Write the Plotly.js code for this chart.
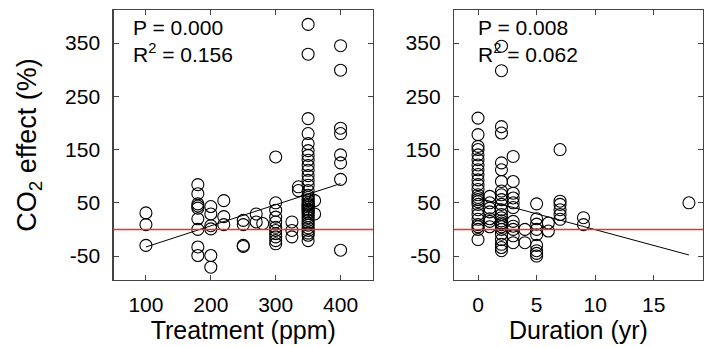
<!DOCTYPE html>
<html>
<head>
<meta charset="utf-8">
<script src="https://cdn.plot.ly/plotly-3.0.1.min.js"></script>
<style>html,body{margin:0;padding:0;background:#fff;}</style>
</head>
<body>
<div id="chart" style="width:704px;height:347px;"></div>
<script>
// Left panel: Treatment (ppm) vs CO2 effect (%)
const treatX = [
  100,100,100,
  180,180,180,180,180,180,180,180,180,
  200,200,200,200,200,200,
  220,220,220,
  250,250,250,250,
  270,270,
  280,
  300,300,300,300,300,300,300,300,300,300,300,
  325,325,325,
  335,335,
  350,350,350,350,350,350,350,350,350,350,350,350,350,350,350,350,350,350,350,350,350,350,350,350,350,350,350,350,350,350,350,350,350,350,350,350,
  360,360,
  400,400,400,400,400,400,400,400
];
const treatY = [
  31,9,-30,
  84,67,48,44,40,20,0,-33,-49,
  43,29,7,1,-49,-71,
  54,24,9,
  17,9,-30,-32,
  29,14,
  11,
  136,50,36,23,14,4,-2,-8,-14,-21,-27,
  14,-2,-14,
  80,73,
  385,329,208,180,161,148,139,130,120,111,101,92,83,73,64,60,56,54,50,47,45,42,38,36,33,30,26,22,17,12,8,3,-2,-7,-11,-21,
  54,29,
  345,299,190,180,140,125,94,-39
];
const treatFitX = [100, 400];
const treatFitY = [-33, 86];

// Right panel: Duration (yr) vs CO2 effect (%)
const durX = [
  0,0,0,0,0,0,0,0,0,0,0,0,0,0,0,0,0,0,0,0,0,0,0,0,
  1,1,1,1,1,1,1,
  2,2,2,2,2,2,2,2,2,2,2,2,2,2,2,2,2,2,2,2,2,2,2,2,
  3,3,3,3,3,3,3,3,3,3,3,
  4,4,
  5,5,5,5,5,5,5,5,5,
  6,6,
  7,7,7,7,7,7,
  9,9,
  18
];
const durY = [
  209,178,156,150,140,131,121,112,103,93,84,75,65,60,56,52,47,37,28,19,9,5,0,-19,
  62,50,40,33,20,15,5,
  344,298,193,181,125,112,90,72,65,56,47,37,28,22,16,12,9,5,0,-9,-19,-28,-34,-40,
  137,90,68,59,50,41,15,6,0,-12,-25,
  0,-25,
  48,20,10,0,-10,-30,-40,-45,-50,
  12,-3,
  150,53,47,37,28,19,
  22,9,
  50
];
const durFitX = [0, 18];
const durFitY = [59, -48];

const xTicks1 = [100, 200, 300, 400];
const xTicks2 = [0, 5, 10, 15];
const yTicks = [-50, 50, 150, 250, 350];

const FONT = 'Arial, "Liberation Sans", sans-serif';
const frame = '#444';

const marker = {symbol: 'circle-open', size: 12, color: '#000', line: {width: 1.1, color: '#000'}};

const traces = [
  {x: treatX, y: treatY, type: 'scatter', mode: 'markers', marker: marker, xaxis: 'x', yaxis: 'y', hoverinfo: 'x+y'},
  {x: treatFitX, y: treatFitY, type: 'scatter', mode: 'lines', line: {color: '#000', width: 1}, xaxis: 'x', yaxis: 'y'},
  {x: durX, y: durY, type: 'scatter', mode: 'markers', marker: marker, xaxis: 'x2', yaxis: 'y2', hoverinfo: 'x+y'},
  {x: durFitX, y: durFitY, type: 'scatter', mode: 'lines', line: {color: '#000', width: 1}, xaxis: 'x2', yaxis: 'y2'}
];

function xAxis(domain, range, ticks, title) {
  return {
    domain: domain, range: range, tickvals: ticks, ticktext: ticks.map(String),
    ticks: 'inside', ticklen: 5, tickwidth: 1, tickcolor: frame,
    showline: true, linecolor: frame, linewidth: 1.2, mirror: 'ticks',
    showgrid: false, zeroline: false,
    tickfont: {family: FONT, size: 21, color: '#000'},
    ticklabelstandoff: 6,
    title: {text: title, font: {family: FONT, size: 25, color: '#000'}, standoff: 6},
    automargin: false
  };
}
function yAxis(anchor, title) {
  const a = {
    anchor: anchor, domain: [0, 1], range: [-95, 412], tickvals: yTicks, ticktext: yTicks.map(String),
    ticks: 'inside', ticklen: 5, tickwidth: 1, tickcolor: frame,
    showline: true, linecolor: frame, linewidth: 1.2, mirror: 'ticks',
    showgrid: false, zeroline: false,
    tickfont: {family: FONT, size: 21, color: '#000'},
    ticklabelstandoff: 8,
    automargin: false
  };
  if (title) a.title = {text: title, font: {family: FONT, size: 27, color: '#000'}, standoff: 20};
  return a;
}

const layout = {
  width: 704, height: 347,
  margin: {l: 0, r: 0, t: 10, b: 67, pad: 0},
  paper_bgcolor: '#fff', plot_bgcolor: '#fff',
  showlegend: false,
  font: {family: FONT, color: '#000'},
  xaxis: xAxis([113.5/704, 373/704], [50, 450], xTicks1, 'Treatment (ppm)'),
  xaxis2: Object.assign(xAxis([454/704, 703/704], [-2.05, 19.2], xTicks2, 'Duration (yr)'), {anchor: 'y2'}),
  yaxis: yAxis('x', 'CO<sub>2</sub> effect (%)'),
  yaxis2: yAxis('x2', null),
  shapes: [
    {type: 'line', xref: 'x domain', yref: 'y', x0: 0, x1: 1, y0: 0, y1: 0, line: {color: '#e8332e', width: 1.5}},
    {type: 'line', xref: 'x2 domain', yref: 'y2', x0: 0, x1: 1, y0: 0, y1: 0, line: {color: '#e8332e', width: 1.5}}
  ],
  annotations: [
    {xref: 'paper', yref: 'paper', x: 131/704, y: 0.985, xanchor: 'left', yanchor: 'top', align: 'left', showarrow: false,
     text: 'P = 0.000<br>R<sup>2</sup> = 0.156', font: {family: FONT, size: 21, color: '#000'}},
    {xref: 'paper', yref: 'paper', x: 476/704, y: 0.985, xanchor: 'left', yanchor: 'top', align: 'left', showarrow: false,
     text: 'P = 0.008<br>R<sup>2</sup> = 0.062', font: {family: FONT, size: 21, color: '#000'}}
  ]
};

Plotly.newPlot('chart', traces, layout, {staticPlot: true, displayModeBar: false});
</script>
</body>
</html>
